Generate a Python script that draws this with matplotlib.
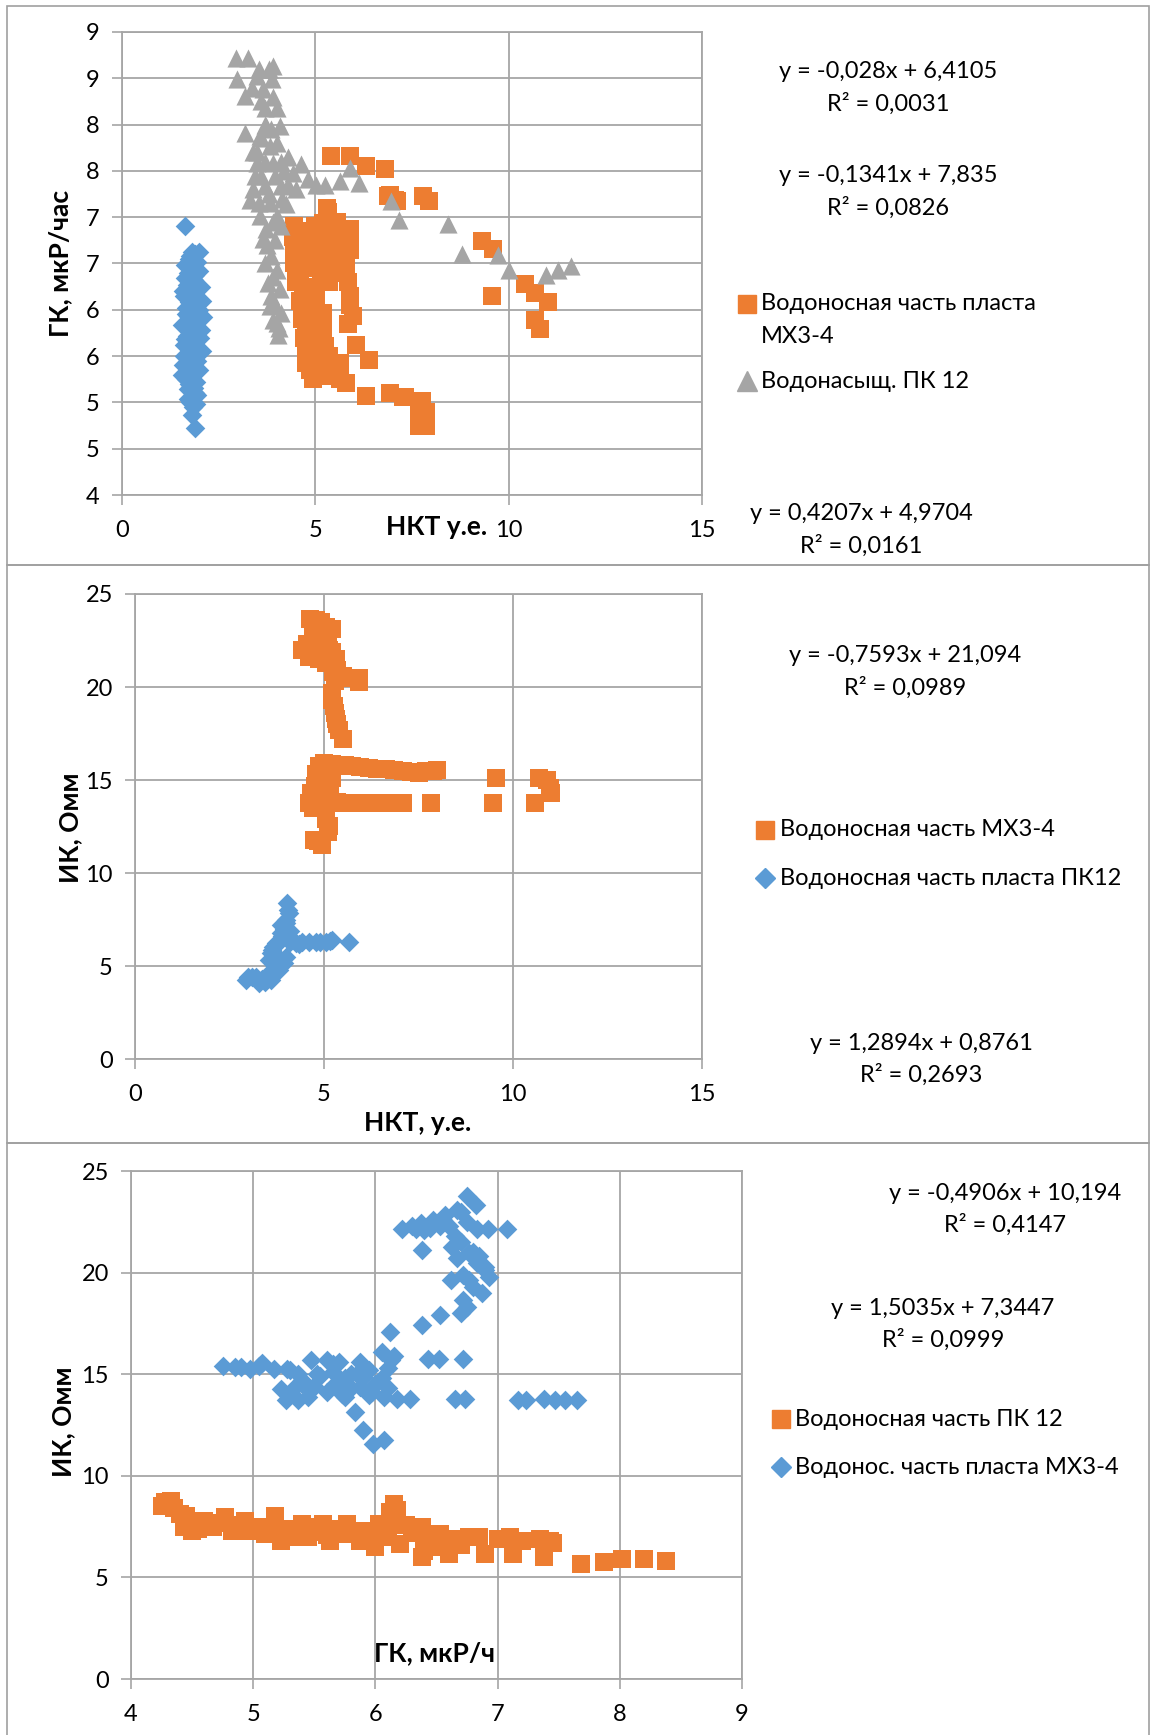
import matplotlib
matplotlib.use("Agg")
import matplotlib.pyplot as plt
from matplotlib.patches import Rectangle
from matplotlib.lines import Line2D

plt.rcParams['font.family'] = ['Lato', 'Open Sans', 'DejaVu Sans']

ORANGE = '#ED7D31'
BLUE = '#5B9BD5'
GRAY = '#A5A5A5'
GRID = '#a6a6a6'

# ---------- panel 1: НКТ vs ГК ----------
p1_blue_x = [1.63, 1.80, 1.88, 1.72, 1.95, 1.80, 1.70, 1.90, 1.85, 1.68, 1.95, 1.78, 1.60, 1.88,
             1.72, 1.65, 1.98, 1.82, 1.70, 1.90, 1.62, 1.78, 1.95, 1.85, 1.68, 2.02, 1.80, 1.60,
             1.92, 1.75, 1.85, 1.68, 1.95, 1.78, 1.58, 1.88, 1.72, 1.82, 1.65, 1.92, 1.78, 1.70,
             1.88, 1.80, 1.75, 1.82, 1.88,
             1.76, 2.00, 1.62, 2.05, 1.58, 2.08, 1.66, 2.00, 1.55, 2.04, 1.62, 2.06, 1.60, 1.98,
             1.56, 2.10, 1.64, 2.00, 1.70, 1.95, 1.74, 1.86, 1.92, 1.84]
p1_blue_y = [6.91, 6.62, 6.60, 6.55, 6.52, 6.45, 6.40, 6.38, 6.32, 6.27, 6.22, 6.18, 6.15, 6.12,
             6.08, 6.02, 6.00, 5.97, 5.93, 5.90, 5.86, 5.82, 5.80, 5.75, 5.72, 5.70, 5.66, 5.62,
             5.60, 5.56, 5.52, 5.48, 5.45, 5.42, 5.40, 5.36, 5.33, 5.28, 5.25, 5.22, 5.18, 5.14,
             5.10, 5.05, 5.00, 4.86, 4.72,
             6.58, 6.42, 6.34, 6.25, 6.20, 6.10, 5.96, 5.94, 5.84, 5.78, 5.68, 5.55, 5.50, 5.35,
             5.30, 5.92, 6.48, 6.62, 5.04, 5.08, 5.20, 5.16, 4.98, 4.95]

p1_orange_x = [5.41, 5.89, 6.32, 6.79, 6.88, 7.05, 7.78, 7.93, 6.94, 7.11,
               5.33, 5.20, 5.89, 4.42, 4.77, 5.20, 5.54, 5.89, 4.51, 4.94, 5.33, 5.80,
               4.51, 5.25, 5.89, 4.68, 5.03, 5.20, 5.97, 4.77, 5.20, 6.06, 4.81, 5.24,
               6.40, 4.77, 5.20, 5.63, 4.94, 5.80, 6.32, 5.20, 6.92, 7.26, 7.69, 7.69,
               7.32, 7.75, 7.86, 7.71, 7.87,
               9.30, 9.60, 9.56, 10.42, 10.68, 11.01, 10.68, 10.81,
               4.45, 4.45, 4.45, 4.50, 4.60, 4.65, 4.70, 4.75, 4.85, 5.00, 5.10, 5.15,
               5.10, 5.00, 4.90, 4.85, 4.75, 4.65, 5.00, 5.15, 5.45, 5.65, 5.75, 5.60,
               5.45, 5.05, 5.15, 5.35, 5.00, 5.85, 5.90, 5.85, 5.35, 5.45, 5.60, 4.95,
               5.30, 5.90, 5.70, 5.55, 5.25, 4.60, 4.90, 5.65]
p1_orange_y = [7.66, 7.66, 7.55, 7.52, 7.23, 7.19, 7.23, 7.18, 7.24, 7.17,
               7.06, 6.94, 6.87, 6.79, 6.79, 6.79, 6.72, 6.65, 6.58, 6.54, 6.51, 6.47,
               6.36, 6.36, 6.15, 6.15, 6.11, 5.97, 5.93, 5.89, 5.79, 5.62, 5.61, 5.61,
               5.46, 5.43, 5.43, 5.43, 5.25, 5.21, 5.07, 5.28, 5.10, 5.06, 4.88, 4.74,
               5.06, 5.02, 4.90, 4.77, 4.75,
               6.74, 6.66, 6.15, 6.28, 6.18, 6.08, 5.89, 5.79,
               6.90, 6.70, 6.50, 6.30, 6.10, 5.90, 5.70, 5.50, 5.35, 5.30, 5.45, 5.65,
               5.85, 6.05, 6.25, 6.45, 6.65, 6.85, 6.90, 6.70, 6.80, 6.85, 6.60, 6.50,
               6.60, 6.55, 6.40, 6.30, 6.20, 6.30, 6.05, 5.85, 5.50, 5.35, 5.30, 5.60,
               7.10, 6.70, 6.40, 6.95, 6.60, 6.40, 5.45, 5.25]

p1_gray_x = [2.94, 3.26, 3.91, 2.98, 3.48, 3.87, 3.18, 3.65, 4.00, 3.69, 3.18, 3.73, 4.08,
             3.56, 3.82, 3.48, 3.91, 4.64, 4.42, 4.81, 5.03, 5.24, 5.89, 5.63, 6.14,
             3.39, 3.69, 4.12, 3.30, 3.82, 4.25, 3.56, 4.00, 3.73, 3.65, 3.86, 4.00,
             3.78, 4.08, 3.82, 4.12, 4.00, 4.04, 3.91,
             6.96, 7.17, 8.43, 8.80, 9.73, 10.02, 10.96, 11.28, 11.61,
             3.50, 3.70, 4.10, 3.60, 3.95, 4.20, 3.45, 3.80, 4.15, 3.55, 3.90, 4.10,
             3.75, 3.95, 3.70, 3.90, 3.85, 3.95, 4.05, 3.70, 3.90, 3.60, 3.80, 3.55,
             3.35, 4.30, 4.50, 4.30, 3.40, 3.60, 3.85, 4.00]
p1_gray_y = [8.72, 8.72, 8.63, 8.49, 8.52, 8.49, 8.31, 8.38, 8.18, 8.18, 7.91, 7.98, 7.98,
             7.88, 7.77, 7.59, 7.59, 7.57, 7.48, 7.41, 7.35, 7.35, 7.53, 7.39, 7.37,
             7.30, 7.34, 7.34, 7.19, 7.15, 7.14, 7.01, 7.01, 6.87, 6.76, 6.58, 6.43,
             6.29, 6.22, 6.04, 5.97, 5.86, 5.73, 5.89,
             7.17, 6.97, 6.93, 6.60, 6.59, 6.43, 6.38, 6.43, 6.47,
             7.70, 7.60, 7.60, 7.45, 7.45, 7.50, 7.45, 7.25, 7.20, 7.15, 6.95, 6.90,
             6.70, 6.75, 6.50, 6.35, 6.15, 6.05, 5.80, 8.00, 8.30, 8.25, 8.60, 8.60,
             8.40, 7.35, 7.30, 7.65, 7.70, 7.85, 7.95, 7.80]

p1_yticks = [4, 4.5, 5, 5.5, 6, 6.5, 7, 7.5, 8, 8.5, 9]
p1_ylabels = ['4', '5', '5', '6', '6', '7', '7', '8', '8', '9', '9']

# ---------- panel 2: НКТ vs ИК ----------
p2_orange_x = [4.62, 4.91, 5.22, 4.42, 4.78, 5.13, 5.31, 4.87, 5.35, 5.93, 5.93, 5.22, 5.27,
               5.31, 5.40, 5.50,
               5.22, 4.87, 5.75, 6.20, 6.64, 7.08, 7.52, 7.88, 4.78, 4.65,
               4.60, 5.13, 5.58, 6.02, 6.46, 6.90, 7.83, 9.47, 9.56, 10.58, 10.70, 10.97, 11.00,
               5.04, 5.13, 4.73, 4.96,
               4.55, 4.70, 4.95, 5.10, 5.20, 4.60, 5.05, 5.25, 5.50, 5.70, 5.30, 5.20, 5.30,
               5.35, 4.80, 5.05,
               5.00, 5.10, 5.35, 5.55, 5.95, 6.40, 6.85, 7.30, 7.70, 8.00, 4.80, 5.20, 5.15,
               4.75, 4.95,
               4.85, 5.35, 5.80, 6.25, 6.70, 7.10, 4.70, 5.05, 5.05, 5.10, 4.85, 10.90]
p2_orange_y = [23.65, 23.47, 23.10, 22.00, 21.90, 22.00, 21.50, 21.50, 20.90, 20.50, 20.25,
               19.70, 19.00, 18.27, 17.70, 17.20,
               15.84, 15.75, 15.75, 15.66, 15.57, 15.48, 15.40, 15.48, 15.04, 14.30,
               13.78, 13.78, 13.78, 13.74, 13.74, 13.74, 13.78, 13.74, 15.13, 13.74, 15.13,
               14.59, 14.30,
               12.88, 12.52, 11.80, 11.53,
               22.30, 22.80, 22.60, 22.80, 21.90, 21.60, 21.30, 20.80, 20.60, 20.50, 20.30,
               19.30, 18.60, 18.00, 23.60, 23.20,
               15.90, 15.60, 15.75, 15.80, 15.70, 15.60, 15.55, 15.45, 15.50, 15.55, 15.30,
               15.10, 14.60, 14.70, 14.00,
               13.80, 13.80, 13.75, 13.75, 13.75, 13.75, 13.50, 13.45, 13.20, 12.20, 11.70, 15.00]

p2_blue_x = [4.03, 4.07, 3.99, 3.85, 3.72, 3.63, 4.12, 4.43, 4.78, 5.04, 5.22, 5.66,
             3.54, 3.99, 3.81, 3.46, 3.28, 2.93, 3.10, 3.59, 3.94, 4.10,
             3.20, 3.35, 3.50, 3.60, 3.70, 3.75, 3.85, 3.60, 3.65, 3.80, 3.90, 3.95,
             4.00, 4.05, 3.85, 4.10, 4.25, 4.60, 4.90, 5.15, 4.35, 3.70, 3.45, 3.00]
p2_blue_y = [8.38, 7.84, 7.30, 6.76, 6.22, 5.86, 6.40, 6.31, 6.31, 6.31, 6.40, 6.31,
             5.32, 5.50, 4.78, 4.24, 4.06, 4.24, 4.42, 4.24, 5.14, 6.90,
             4.40, 4.30, 4.50, 4.40, 4.70, 5.00, 5.30, 5.70, 6.00, 6.30, 6.60, 7.00,
             7.50, 8.00, 7.20, 6.30, 6.25, 6.30, 6.30, 6.35, 6.20, 5.40, 4.15, 4.40]

# ---------- panel 3: ГК vs ИК ----------
p3_blue_x = [6.75, 6.82, 6.67, 6.57, 6.47, 6.37, 6.22, 6.33, 6.53, 6.83, 6.92, 7.08,
             6.38, 6.63, 6.67, 6.77, 6.83, 6.90, 6.93, 6.62, 6.77, 6.87, 6.72, 6.70, 6.53,
             6.38, 6.12, 6.05, 6.13, 6.43, 6.52, 6.72,
             4.75, 4.85, 4.97, 5.07, 5.17, 5.28, 5.37, 5.47, 5.52, 5.60, 5.70, 5.87, 5.80,
             5.90, 6.00, 5.87, 5.73, 5.97, 6.07, 5.23, 5.27, 5.37, 5.47, 5.60, 5.67, 5.40,
             6.18, 6.28, 6.65, 6.73, 7.17, 7.23, 7.38, 7.47, 7.55, 7.65,
             5.83, 5.90, 5.98, 6.07,
             5.30, 5.40, 5.50, 5.55, 5.65, 5.75, 5.80, 5.85, 5.95, 6.05, 6.10, 5.95,
             5.75, 5.30, 5.45, 5.35, 6.10, 6.15, 5.65, 5.05, 4.90,
             6.60, 6.65, 6.70, 6.75, 6.80, 6.85, 6.90, 6.72, 6.80, 6.75, 6.70, 6.45,
             6.55, 6.40, 6.30]
p3_blue_y = [23.75, 23.34, 23.10, 22.85, 22.60, 22.43, 22.14, 22.14, 22.27, 22.14, 22.14, 22.14,
             21.12, 21.28, 20.70, 20.95, 20.46, 20.13, 19.80, 19.64, 19.64, 18.98, 18.65, 17.99,
             17.91, 17.42, 17.09, 16.10, 15.69, 15.77, 15.77, 15.77,
             15.39, 15.36, 15.28, 15.53, 15.28, 15.28, 15.03, 15.69, 15.03, 15.69, 15.61, 15.61,
             15.03, 14.87, 14.54, 14.38, 14.05, 14.13, 13.88, 14.29, 13.72, 13.72, 14.21, 14.13,
             14.54, 14.54,
             13.80, 13.80, 13.80, 13.80, 13.72, 13.72, 13.80, 13.72, 13.72, 13.72,
             13.14, 12.24, 11.58, 11.78,
             15.20, 14.70, 14.40, 14.90, 15.10, 14.80, 14.30, 15.00, 15.20, 14.80, 14.30, 14.00,
             13.90, 14.00, 13.90, 14.40, 15.30, 15.90, 15.50, 15.40, 15.35,
             22.30, 21.80, 21.50, 22.50, 21.00, 20.80, 20.30, 19.90, 19.30, 18.30, 23.00, 22.20,
             22.60, 22.10, 22.30]

p3_orange_x = [4.28, 4.33, 4.40, 4.50, 4.60, 4.77, 4.93, 5.00, 5.18, 5.23, 5.40, 5.33, 5.57,
               5.63, 5.77, 5.87, 6.00, 6.03, 6.15, 6.17, 6.20, 6.38, 6.38, 6.53, 6.60, 6.77,
               6.90, 7.10, 7.13, 7.43, 7.38, 7.68, 7.87, 8.02, 8.20, 8.38,
               5.73, 5.10, 4.83, 4.67, 5.47, 6.40, 4.43,
               4.25, 4.35, 4.45, 4.50, 4.55, 4.70, 4.85, 4.90, 5.05, 5.15, 5.25, 5.30,
               5.45, 5.50, 5.60, 5.70, 5.80, 5.90, 5.95, 6.05, 6.10, 6.12, 6.18, 6.25,
               6.30, 6.45, 6.50, 6.65, 6.70, 6.85, 7.00, 7.20, 7.35, 7.45, 6.40, 5.40]
p3_orange_y = [8.70, 8.78, 8.12, 7.63, 7.80, 7.96, 7.80, 7.30, 8.04, 6.80, 7.63, 6.97, 7.63,
               6.80, 7.63, 6.80, 6.48, 7.63, 8.61, 7.80, 6.64, 7.47, 5.99, 7.14, 6.15, 6.97,
               6.15, 6.97, 6.15, 6.80, 5.99, 5.66, 5.74, 5.90, 5.90, 5.82,
               7.14, 7.14, 7.30, 7.47, 7.22, 6.64, 7.47,
               8.50, 8.40, 8.00, 7.30, 7.40, 7.70, 7.60, 7.30, 7.50, 7.30, 7.20, 7.40,
               7.00, 7.50, 7.10, 7.40, 7.20, 7.30, 6.90, 7.00, 7.30, 8.20, 8.30, 7.60,
               7.20, 7.00, 6.50, 6.90, 6.60, 7.00, 6.90, 6.80, 6.90, 6.70, 6.30, 7.20]

W, H = 1151, 1735
fig = plt.figure(figsize=(W / 100, H / 100), dpi=100)
FS = 17
FS_LAB = 19


def axes_px(left, top, right, bottom):
    return fig.add_axes([left / W, 1 - bottom / H, (right - left) / W, (bottom - top) / H])


def style(ax):
    ax.grid(True, color=GRID, lw=1.3)
    ax.set_axisbelow(True)
    for s in ax.spines.values():
        s.set_color(GRID)
        s.set_linewidth(1.3)
    ax.tick_params(labelsize=FS, color=GRID, length=7, width=1.2, pad=9)
    ax.tick_params(axis='x', pad=11)


def ftext(x, y, s, size=FS, **kw):
    kw.setdefault('ha', 'center')
    kw.setdefault('va', 'center')
    fig.text(x / W, 1 - y / H, s, fontsize=size, **kw)


def legend_marker(x, y, marker, color, size):
    fig.add_artist(Line2D([x / W], [1 - y / H], marker=marker, color=color,
                          markersize=size, linestyle='none', transform=fig.transFigure))


# panel frames
for top, bottom in [(6, 565), (565, 1143), (1143, 1740)]:
    fig.add_artist(Rectangle((7 / W, 1 - bottom / H), (1149 - 7) / W, (bottom - top) / H,
                             transform=fig.transFigure, fill=False, ec='#a0a0a0', lw=1.2))

# ---- panel 1
ax1 = axes_px(122, 32, 702, 495)
ax1.scatter(p1_blue_x, p1_blue_y, marker='D', s=100, color=BLUE, lw=0)
ax1.scatter(p1_orange_x, p1_orange_y, marker='s', s=185, color=ORANGE, lw=0)
ax1.scatter(p1_gray_x, p1_gray_y, marker='^', s=170, color=GRAY, lw=0)
ax1.set_xlim(0, 15)
ax1.set_ylim(4, 9)
ax1.set_xticks([0, 5, 10, 15])
ax1.set_yticks(p1_yticks)
ax1.set_yticklabels(p1_ylabels)
style(ax1)
ftext(60, 263, 'ГК, мкР/час', size=FS_LAB, rotation=90, fontweight='bold')
ftext(437, 527, 'НКТ у.е.', size=FS_LAB, fontweight='bold')
ftext(888, 71, 'y = -0,028x + 6,4105')
ftext(888, 104, 'R² = 0,0031')
ftext(888, 176, 'y = -0,1341x + 7,835')
ftext(888, 208, 'R² = 0,0826')
legend_marker(747, 304, 's', ORANGE, 13)
ftext(761, 304, 'Водоносная часть пласта', ha='left')
ftext(761, 336, 'МХ3-4', ha='left')
legend_marker(747, 381, '^', GRAY, 14)
ftext(761, 381, 'Водонасыщ. ПК 12', ha='left')
ftext(861, 514, 'y = 0,4207x + 4,9704')
ftext(861, 546, 'R² = 0,0161')

# ---- panel 2
ax2 = axes_px(135, 594, 702, 1059)
ax2.scatter(p2_orange_x, p2_orange_y, marker='s', s=185, color=ORANGE, lw=0)
ax2.scatter(p2_blue_x, p2_blue_y, marker='D', s=100, color=BLUE, lw=0)
ax2.set_xlim(0, 15)
ax2.set_ylim(0, 25)
ax2.set_xticks([0, 5, 10, 15])
ax2.set_yticks([0, 5, 10, 15, 20, 25])
style(ax2)
ftext(70, 828, 'ИК, Омм', size=FS_LAB, rotation=90, fontweight='bold')
ftext(418, 1123, 'НКТ, у.е.', size=FS_LAB, fontweight='bold')
ftext(905, 656, 'y = -0,7593x + 21,094')
ftext(905, 688, 'R² = 0,0989')
legend_marker(765, 830, 's', ORANGE, 13)
ftext(780, 830, 'Водоносная часть МХ3-4', ha='left')
legend_marker(765, 878, 'D', BLUE, 10)
ftext(780, 878, 'Водоносная часть пласта ПК12', ha='left')
ftext(921, 1043, 'y = 1,2894x + 0,8761')
ftext(921, 1075, 'R² = 0,2693')

# ---- panel 3
ax3 = axes_px(131, 1171, 742, 1679)
ax3.scatter(p3_orange_x, p3_orange_y, marker='s', s=185, color=ORANGE, lw=0)
ax3.scatter(p3_blue_x, p3_blue_y, marker='D', s=100, color=BLUE, lw=0)
ax3.set_xlim(4, 9)
ax3.set_ylim(0, 25)
ax3.set_xticks([4, 5, 6, 7, 8, 9])
ax3.set_yticks([0, 5, 10, 15, 20, 25])
style(ax3)
ftext(63, 1422, 'ИК, Омм', size=FS_LAB, rotation=90, fontweight='bold')
ftext(434, 1653, 'ГК, мкР/ч', size=FS_LAB, fontweight='bold')
ftext(1005, 1194, 'y = -0,4906x + 10,194')
ftext(1005, 1225, 'R² = 0,4147')
ftext(943, 1308, 'y = 1,5035x + 7,3447')
ftext(943, 1340, 'R² = 0,0999')
legend_marker(781, 1419, 's', ORANGE, 13)
ftext(795, 1419, 'Водоносная часть ПК 12', ha='left')
legend_marker(781, 1467, 'D', BLUE, 10)
ftext(795, 1467, 'Водонос. часть пласта МХ3-4', ha='left')

fig.savefig('out.png', dpi=100)
